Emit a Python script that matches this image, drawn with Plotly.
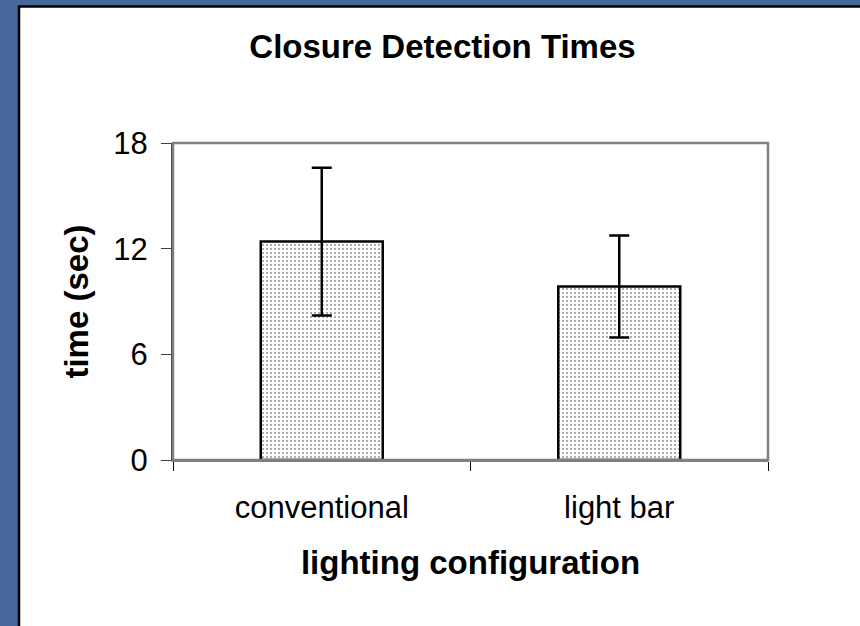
import plotly.graph_objects as go

# data
categories = ["conventional", "light bar"]
mean_time = [12.4, 9.85]
err_time = [4.2, 2.9]
y_ticks = [0, 6, 12, 18]

# plot area in pixels (860x626 page)
L, R, T, B = 173, 768, 143, 460
W, H = 860, 626
pw, ph = R - L, B - T


def px_x(x):
    return (x - L) / pw


def px_y(y):
    return (B - y) / ph


fig = go.Figure()

fig.add_trace(go.Bar(
    x=categories,
    y=mean_time,
    width=0.41,
    marker=dict(
        color="white",
        line=dict(color="black", width=2.5),
        pattern=dict(shape=".", fgcolor="#333333", bgcolor="white", size=4, solidity=0.22),
    ),
    error_y=dict(type="data", array=err_time, visible=True, color="black", thickness=2.5, width=10),
))

# blue slide background + white panel with black edge
fig.add_shape(type="rect", xref="paper", yref="paper", layer="below",
              x0=px_x(0), x1=px_x(W), y0=px_y(H), y1=px_y(0),
              fillcolor="#46689a", line=dict(width=0))
fig.add_shape(type="rect", xref="paper", yref="paper", layer="below",
              x0=px_x(19), x1=px_x(W + 5), y0=px_y(H + 5), y1=px_y(6.5),
              fillcolor="white", line=dict(color="black", width=2.5))
# plot area frame
fig.add_shape(type="rect", xref="paper", yref="paper", layer="above",
              x0=0, x1=1, y0=0, y1=1, line=dict(color="#808080", width=2.5))

fig.update_layout(
    width=W, height=H,
    margin=dict(l=L, r=W - R, t=T, b=H - B),
    paper_bgcolor="white",
    plot_bgcolor="white",
    showlegend=False,
    bargap=0.59,
    font=dict(family="Liberation Sans, Arial, sans-serif", color="black"),
    title=dict(
        text="<b>Closure Detection Times</b>",
        font=dict(size=33, color="black"),
        xref="paper", x=px_x(442.5), xanchor="center",
        yref="container", y=1 - 46 / H, yanchor="middle",
    ),
    xaxis=dict(
        title=dict(text="<b>lighting configuration</b>", font=dict(size=33), standoff=27),
        tickfont=dict(size=31),
        tickson="boundaries",
        ticks="outside", ticklen=9, tickcolor="black", tickwidth=1,
        showline=True, linecolor="#808080", linewidth=2,
        showgrid=False,
        ticklabelstandoff=19,
    ),
    yaxis=dict(
        title=dict(text="<b>time (sec)</b>", font=dict(size=33), standoff=15),
        range=[0, 18],
        tickvals=y_ticks,
        tickfont=dict(size=31),
        ticks="outside", ticklen=10, tickcolor="#404040", tickwidth=1,
        showline=True, linecolor="#404040", linewidth=2,
        showgrid=False, zeroline=False,
        ticklabelstandoff=7,
    ),
)

# drop the default page margin so the figure sits at the window corner
fig.write_html("out.html", config={"displayModeBar": False},
               post_script="document.body.style.margin='0px';")
